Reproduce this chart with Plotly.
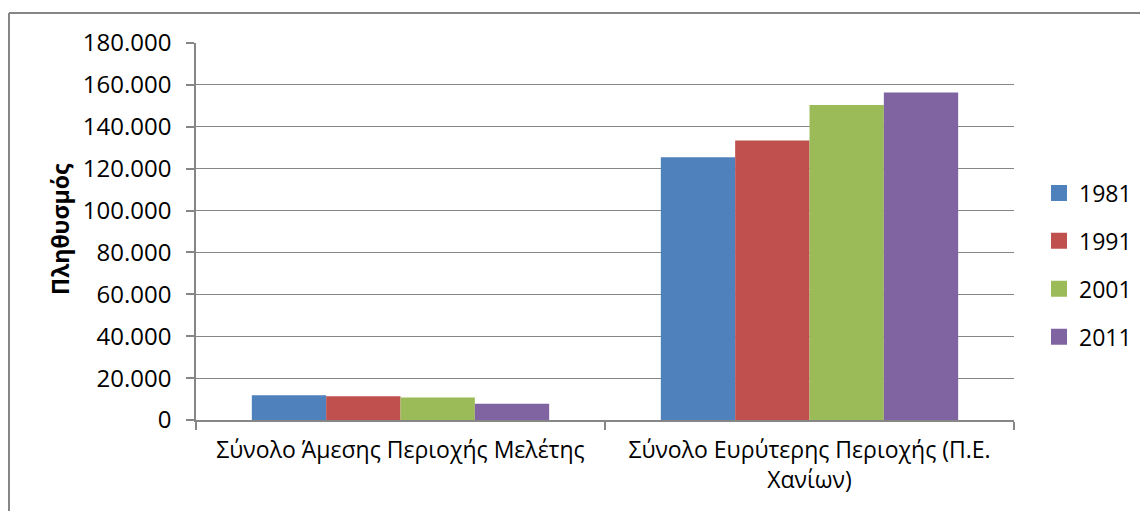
import plotly.graph_objects as go

categories = ["Σύνολο Άμεσης Περιοχής Μελέτης", "Σύνολο Ευρύτερης Περιοχής (Π.Ε.<br>Χανίων)"]
years = ["1981", "1991", "2001", "2011"]
values_1981 = [11800, 125500]
values_1991 = [11300, 133500]
values_2001 = [10800, 150400]
values_2011 = [7800, 156400]
series_values = [values_1981, values_1991, values_2001, values_2011]
colors = ["#4F81BD", "#C0504D", "#9BBB59", "#8064A2"]
y_title = "Πληθυσμός"

FONT = "Open Sans"
OFF = 8  # default page body margin
W, H = 1148 - OFF, 511 - OFF
# plot area in screen pixels: x 196..1014, y 43..420
L = 196 - OFF
R = W - (1014 - OFF)
T = 43 - OFF
B = H - (420 - OFF)
pw, ph = W - L - R, H - T - B


def px_x(s):
    return (s - OFF - L) / pw


def px_y(s):
    return (H - B - (s - OFF)) / ph


fig = go.Figure()
for yr, vals, col in zip(years, series_values, colors):
    fig.add_trace(go.Bar(x=categories, y=vals, name=yr, marker=dict(color=col, line=dict(width=0)),
                         showlegend=False))
    fig.add_trace(go.Scatter(x=[None], y=[None], mode="markers", name=yr, legendgroup=yr,
                             marker=dict(symbol="square", size=16, color=col)))

fig.update_layout(
    width=W, height=H,
    margin=dict(l=L, r=R, t=T, b=B, autoexpand=False),
    paper_bgcolor="white", plot_bgcolor="white",
    barmode="group", bargap=0.273, bargroupgap=0,
    separators=",.",
    font=dict(family=FONT, size=23, color="#000000"),
    legend=dict(x=px_x(1039), xanchor="left", y=px_y(265), yanchor="middle",
                font=dict(family=FONT, size=23, color="#000000"),
                tracegroupgap=15, itemwidth=30, bgcolor="rgba(0,0,0,0)"),
    xaxis=dict(showline=True, linecolor="#868686", linewidth=1.5, ticks="outside", tickson="boundaries",
               ticklen=8, tickcolor="#868686", tickwidth=1.5, showgrid=False,
               tickfont=dict(family=FONT, size=23, color="#000000"), ticklabelstandoff=9),
    yaxis=dict(range=[0, 180000], tickvals=list(range(0, 180001, 20000)), tickformat=",d",
               showline=True, linecolor="#868686", linewidth=1.5, ticks="outside", ticklen=8,
               tickcolor="#868686", tickwidth=1.5, showgrid=True, gridcolor="#868686", gridwidth=1,
               tickfont=dict(family=FONT, size=24, color="#000000"), ticklabelstandoff=10, zeroline=False),
    annotations=[dict(text="<b>" + y_title + "</b>", x=px_x(60), y=px_y(229), xref="paper", yref="paper",
                      xanchor="center", yanchor="middle",
                      textangle=-90, showarrow=False, font=dict(family=FONT, size=23, color="#000000"))],
    shapes=[
        dict(type="line", xref="paper", yref="paper", x0=px_x(9), x1=px_x(1170), y0=px_y(13), y1=px_y(13),
             line=dict(color="#868686", width=2)),
        dict(type="line", xref="paper", yref="paper", x0=px_x(9), x1=px_x(9), y0=px_y(13), y1=px_y(530),
             line=dict(color="#868686", width=2)),
    ],
)

fig.write_html("out.html")
